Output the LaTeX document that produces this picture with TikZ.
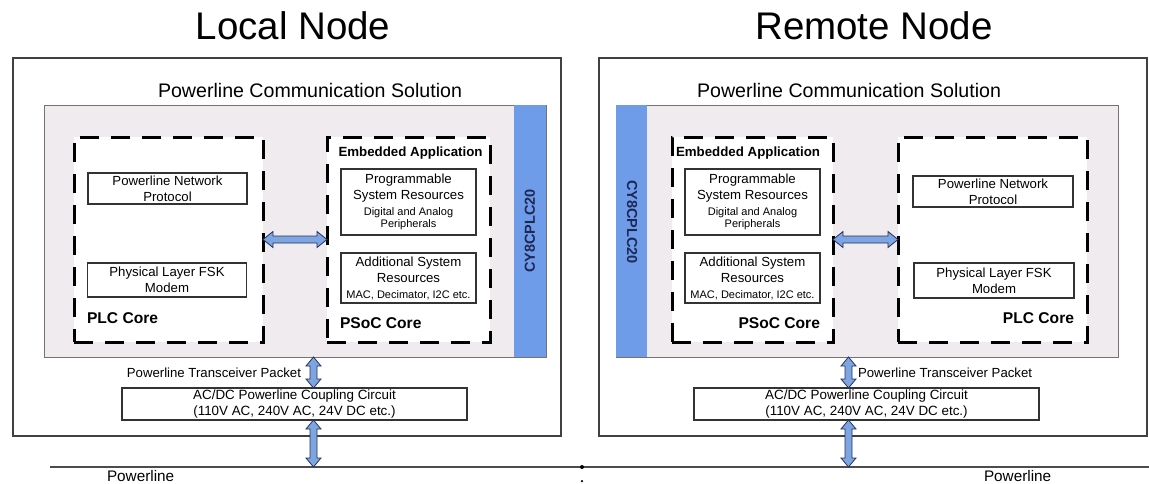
\documentclass[tikz,border=0pt]{standalone}
\usepackage{fontspec}
\setmainfont{Liberation Sans}
\usetikzlibrary{calc}
\definecolor{grayfill}{RGB}{239,235,239}
\definecolor{bandblue}{RGB}{110,156,232}
\definecolor{arrowfill}{RGB}{125,165,225}
\definecolor{arrowline}{RGB}{40,50,90}
\definecolor{cytext}{RGB}{30,40,85}
\newcommand\fsz[2]{\fontsize{#1}{#2}\selectfont}
\newcommand\bkarrowH[2]{%
  \path[arrowsty] let \p1=(#1), \p2=(#2) in
    (\x1,\y1) -- (\x1+10pt,\y1+8pt) -- (\x1+10pt,\y1+3.5pt) -- (\x2-10pt,\y1+3.5pt)
    -- (\x2-10pt,\y1+8pt) -- (\x2,\y1) -- (\x2-10pt,\y1-8pt) -- (\x2-10pt,\y1-3.5pt)
    -- (\x1+10pt,\y1-3.5pt) -- (\x1+10pt,\y1-8pt) -- cycle;}
\newcommand\bkarrowV[2]{%
  \path[arrowsty] let \p1=(#1), \p2=(#2) in
    (\x1,\y1) -- (\x1+7.5pt,\y1-9pt) -- (\x1+3.5pt,\y1-9pt) -- (\x1+3.5pt,\y2+9pt)
    -- (\x1+7.5pt,\y2+9pt) -- (\x1,\y2) -- (\x1-7.5pt,\y2+9pt) -- (\x1-3.5pt,\y2+9pt)
    -- (\x1-3.5pt,\y1-9pt) -- (\x1-7.5pt,\y1-9pt) -- cycle;}
\begin{document}
\begin{tikzpicture}[x=1pt,y=-1pt,
  every node/.style={inner sep=0pt,outer sep=0pt},
  box/.style={anchor=north west,rectangle},
  outerbox/.style={box,draw=black!75,line width=1.2pt},
  graybox/.style={box,fill=grayfill,draw=black!55,line width=0.8pt},
  bandbox/.style={box,fill=bandblue},
  dashbox/.style={box,fill=white,draw=black,line width=3pt,dash pattern=on 19pt off 12pt},
  ibox/.style={box,fill=white,draw=black!80,line width=1.1pt,align=center,font=\fsz{13.2}{16}},
  acbox/.style={box,fill=white,draw=black!80,line width=1.1pt,align=center,font=\fsz{13.4}{15.5}},
  title/.style={anchor=base,font=\fsz{38.5}{44}},
  pcs/.style={anchor=base,font=\fsz{19.6}{23}},
  corelbl/.style={font=\bfseries\fsz{15.6}{18}},
  emblbl/.style={font=\bfseries\fsz{13.3}{16}},
  cylbl/.style={font=\bfseries\fsz{14.5}{17},text=cytext},
  small/.style={font=\fsz{13.2}{16}},
  pwr/.style={font=\fsz{15.3}{18}},
  arrowsty/.style={fill=arrowfill,draw=arrowline,line width=0.8pt,line join=miter},
  pline/.style={draw=black!70,line width=1.2pt}
]
\useasboundingbox (0,0) rectangle (1149,483);

% ---------- Local node ----------
\node[title] (ltitle) at (293,39) {Local Node};
\node[outerbox,minimum width=548pt,minimum height=378pt] (lout) at (13,58) {};
\node[pcs] (lpcs) at (310,97) {Powerline Communication Solution};
\node[graybox,minimum width=502pt,minimum height=252pt] (lgray) at (44,105) {};
\node[bandbox,minimum width=32pt,minimum height=251.2pt] (lband) at (514,105.4) {};
\node[cylbl,rotate=90] (lcy) at (530,231) {CY8CPLC20};
\node[dashbox,minimum width=189pt,minimum height=205pt] (lplc) at (74,137) {};
\node[dashbox,minimum width=163pt,minimum height=205pt] (lpsoc) at (327,137) {};
\node[ibox,minimum width=159pt,minimum height=31pt] (lpnp) at (88,173) {Powerline Network\\Protocol};
\node[ibox,minimum width=159pt,minimum height=34pt] (lphy) at (87.5,263) {Physical Layer FSK\\Modem};
\node[corelbl,anchor=base west] (lplclbl) at (87,323.5) {PLC Core};
\node[emblbl,anchor=base west] (lemb) at (338.5,156) {Embedded Application};
\node[ibox,minimum width=135pt,minimum height=66pt] (lprog) at (341,169)
  {Programmable\\System Resources\\\fsz{11}{12.5}\selectfont Digital and Analog\\[-3.5pt]\fsz{11}{12.5}\selectfont Peripherals};
\node[ibox,minimum width=135pt,minimum height=50pt] (ladd) at (341,253)
  {Additional System\\Resources\\\fsz{11}{14}\selectfont MAC, Decimator, I2C etc.};
\node[corelbl,anchor=base west] (lpsoclbl) at (340,328.5) {PSoC Core};
\node[small,anchor=base east] (ltrx) at (301,377.7) {Powerline Transceiver Packet};
\node[acbox,minimum width=345pt,minimum height=32pt] (lacdc) at (122,388)
  {AC/DC Powerline Coupling Circuit\\(110V AC, 240V AC, 24V DC etc.)};
\coordinate (lax) at (313.5,0);

% ---------- Remote node ----------
\node[title] (rtitle) at (874,39) {Remote Node};
\node[outerbox,minimum width=548pt,minimum height=378pt] (rout) at (599,58) {};
\node[pcs] (rpcs) at (849,97) {Powerline Communication Solution};
\node[graybox,minimum width=502pt,minimum height=252pt] (rgray) at (616,105) {};
\node[bandbox,minimum width=31pt,minimum height=251.2pt] (rband) at (616.4,105.4) {};
\node[cylbl,rotate=-90] (rcy) at (632,222) {CY8CPLC20};
\node[dashbox,minimum width=161pt,minimum height=205pt] (remb) at (672,137) {};
\node[dashbox,minimum width=189pt,minimum height=205pt] (rplc) at (898,137) {};
\node[emblbl,anchor=base west] (rembl) at (676,156) {Embedded Application};
\node[ibox,minimum width=135pt,minimum height=66pt] (rprog) at (685,169)
  {Programmable\\System Resources\\\fsz{11}{12.5}\selectfont Digital and Analog\\[-3.5pt]\fsz{11}{12.5}\selectfont Peripherals};
\node[ibox,minimum width=135pt,minimum height=50pt] (radd) at (685,253)
  {Additional System\\Resources\\\fsz{11}{14}\selectfont MAC, Decimator, I2C etc.};
\node[corelbl,anchor=base east] (rpsoclbl) at (820,328.5) {PSoC Core};
\node[ibox,minimum width=160pt,minimum height=31pt] (rpnp) at (913,176) {Powerline Network\\Protocol};
\node[ibox,minimum width=160pt,minimum height=35pt] (rphy) at (914,263) {Physical Layer FSK\\Modem};
\node[corelbl,anchor=base east] (rplclbl) at (1074,323.5) {PLC Core};
\node[small,anchor=base west] (rtrx) at (858,377.7) {Powerline Transceiver Packet};
\node[acbox,minimum width=345pt,minimum height=32pt] (racdc) at (694,388)
  {AC/DC Powerline Coupling Circuit\\(110V AC, 240V AC, 24V DC etc.)};
\coordinate (rax) at (848.5,0);

% ---------- Powerline ----------
\coordinate (plL) at (50,467);
\coordinate (plR) at (1149,467);
\draw[pline] (plL) -- (plR);
\node[circle,fill=black,minimum size=4pt] (pdot) at (582,467) {};
\node[circle,fill=black,minimum size=2.5pt] (pdot2) at (582,481) {};
\node[pwr,anchor=base west] (lpwr) at (107,481.5) {Powerline};
\node[pwr,anchor=base west] (rpwr) at (984,481.5) {Powerline};

% ---------- Arrows ----------
\bkarrowH{lplc.east}{lpsoc.west}
\bkarrowH{remb.east}{rplc.west}
\bkarrowV{lgray.south -| lax}{lacdc.north -| lax}
\bkarrowV{lacdc.south -| lax}{plL -| lax}
\bkarrowV{rgray.south -| rax}{racdc.north -| rax}
\bkarrowV{racdc.south -| rax}{plL -| rax}
\end{tikzpicture}
\end{document}
